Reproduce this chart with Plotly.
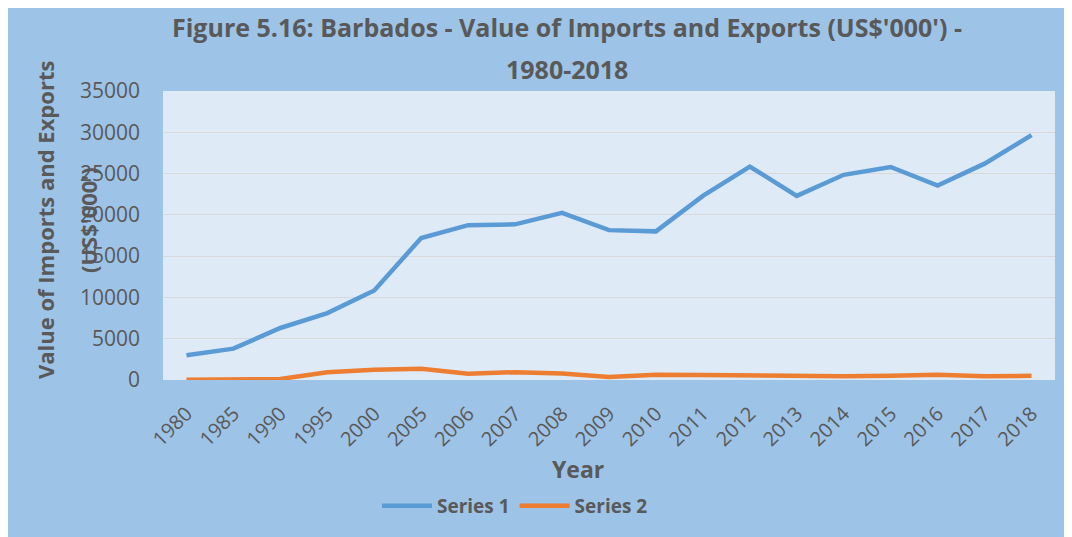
import plotly.graph_objects as go

years = ["1980", "1985", "1990", "1995", "2000", "2005", "2006", "2007", "2008", "2009",
         "2010", "2011", "2012", "2013", "2014", "2015", "2016", "2017", "2018"]
series1 = [3000, 3800, 6300, 8100, 10850, 17200, 18750, 18850, 20250, 18150,
           18000, 22300, 25850, 22300, 24850, 25800, 23550, 26200, 29650]
series2 = [20, 60, 120, 950, 1250, 1350, 750, 950, 800, 350,
           650, 600, 550, 450, 450, 500, 650, 450, 500]

title_line_1 = "Figure 5.16: Barbados - Value of Imports and Exports (US$'000') -"
title_line_2 = "1980-2018"
y_title_1 = "Value of Imports and Exports"
y_title_2 = "(US$'000')"
x_title = "Year"

TXT = "#595959"
FONT = "Open Sans"
W, H = 1064, 529          # page adds an 8px body margin
L, R, T, B = 155, 1047, 83, 372
pw, ph = R - L, B - T

def px_x(p):
    return (p - L) / pw

def px_y(p):
    return (B - p) / ph

fig = go.Figure()
fig.add_trace(go.Scatter(x=years, y=series1, mode="lines", name="<b>Series 1</b>",
                         line=dict(color="#5B9BD5", width=4.5)))
fig.add_trace(go.Scatter(x=years, y=series2, mode="lines", name="<b>Series 2</b>",
                         line=dict(color="#ED7D31", width=4.5)))

fig.update_layout(
    width=W, height=H,
    margin=dict(l=L, r=W - R, t=T, b=H - B, autoexpand=False),
    paper_bgcolor="#9DC3E6",
    plot_bgcolor="#DEEBF7",
    font=dict(family=FONT, color=TXT),
    xaxis=dict(type="category", range=[-0.5, len(years) - 0.5],
               tickangle=-45, showgrid=False, zeroline=False,
               tickfont=dict(size=20, color=TXT), ticklabelstandoff=17,
               showline=False),
    yaxis=dict(range=[0, 35000], dtick=5000, showgrid=True,
               gridcolor="#D9D9D9", gridwidth=1.3, zeroline=False,
               tickfont=dict(size=21, color=TXT), ticklabelstandoff=22,
               tickformat="d"),
    legend=dict(orientation="h", x=507 / W, xanchor="center", xref="container",
                y=1 - 498 / H, yanchor="middle", yref="container",
                font=dict(size=19, color=TXT), itemwidth=50,
                bgcolor="rgba(0,0,0,0)"),
    showlegend=True,
)

def label(text, x, y, size, angle=0):
    fig.add_annotation(text="<b>" + text + "</b>", xref="paper", yref="paper",
                       x=px_x(x), y=px_y(y), textangle=angle, showarrow=False,
                       xanchor="center", yanchor="middle",
                       font=dict(size=size, color=TXT, family=FONT))

label(title_line_1, 559, 19, 25)
label(title_line_2, 559, 61, 25)
label(y_title_1, 37, 212, 22, -90)
label(y_title_2, 80, 212, 22, -90)
label(x_title, 570, 461, 23)

fig.write_html("out.html")
